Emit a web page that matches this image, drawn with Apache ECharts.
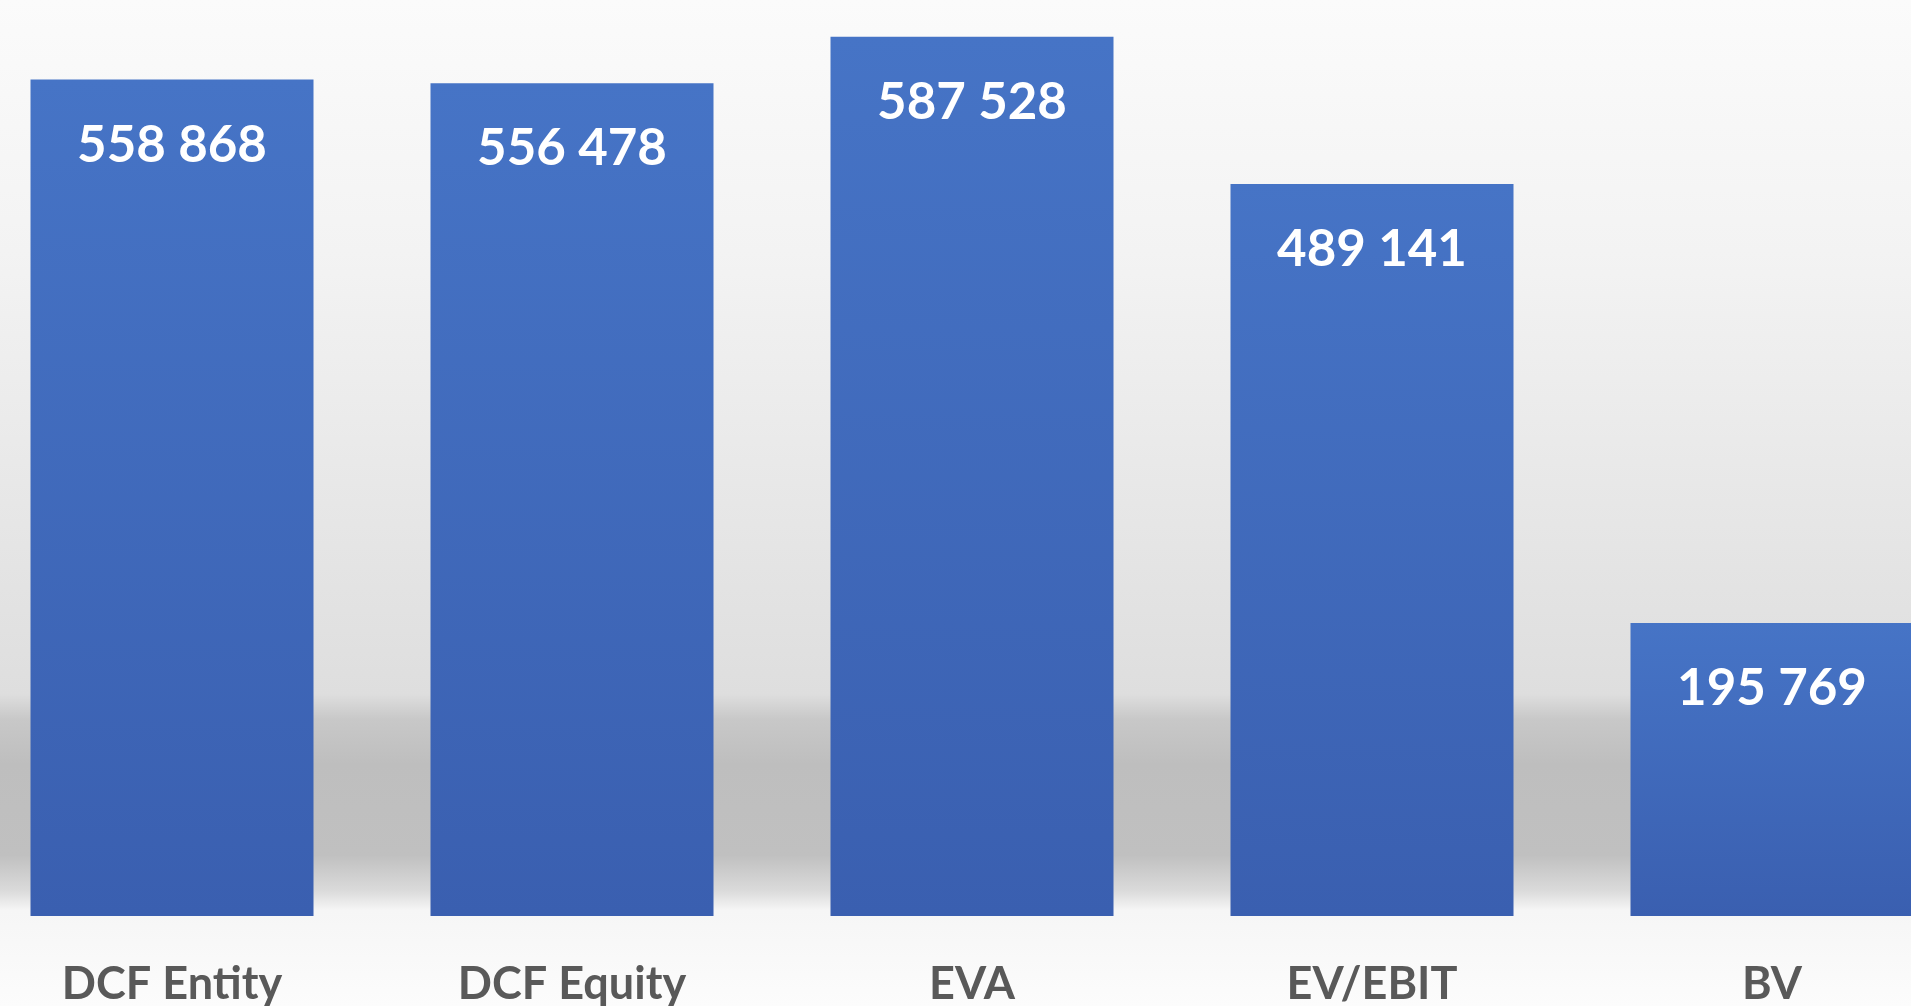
<!DOCTYPE html>
<html>

<head>
    <meta charset="utf-8">
    <title>ECharts</title>
    <script src="https://cdn.jsdelivr.net/npm/echarts@6/dist/echarts.min.js"></script>
    <style>
        html, body { margin: 0; padding: 0; }
    </style>
</head>

<body>
    <div id="main" style="width: 1911px;height:1006px;"></div>
    <script type="text/javascript">
        // valuation methods and results
        var categories = ['DCF Entity', 'DCF Equity', 'EVA', 'EV/EBIT', 'BV'];
        var values = [558868, 556478, 587528, 489141, 195769];

        // 558868 -> "558 868"
        function fmt(v) {
            return String(v).replace(/\B(?=(\d{3})+(?!\d))/g, ' ');
        }

        var myChart = echarts.init(document.getElementById('main'));
        var option = {
            // grey "floor shadow" backdrop
            backgroundColor: {
                type: 'linear', x: 0, y: 0, x2: 0, y2: 1,
                colorStops: [
                    { offset: 0, color: '#fbfbfb' },
                    { offset: 0.25, color: '#f3f3f3' },
                    { offset: 0.5, color: '#e7e7e7' },
                    { offset: 0.69, color: '#dedede' },
                    { offset: 0.715, color: '#c8c8c8' },
                    { offset: 0.76, color: '#bebebe' },
                    { offset: 0.85, color: '#c0c0c0' },
                    { offset: 0.885, color: '#dadada' },
                    { offset: 0.905, color: '#f6f6f6' },
                    { offset: 1, color: '#fcfcfc' }
                ]
            },
            grid: {
                left: -28,
                width: 2000,
                top: 18,
                bottom: 90,
                outerBoundsMode: 'none'
            },
            xAxis: {
                type: 'category',
                data: categories,
                axisLine: { show: false },
                axisTick: { show: false },
                axisLabel: {
                    margin: 46,
                    color: '#595959',
                    fontSize: 45,
                    fontWeight: 'bold',
                    fontFamily: 'Lato'
                }
            },
            yAxis: {
                type: 'value',
                min: 0,
                max: 600000,
                show: false,
                splitLine: { show: false }
            },
            series: [{
                type: 'bar',
                data: values,
                barWidth: 283,
                itemStyle: {
                    color: {
                        type: 'linear', x: 0, y: 0, x2: 0, y2: 1,
                        colorStops: [
                            { offset: 0, color: '#4674c6' },
                            { offset: 1, color: '#3a5fb0' }
                        ]
                    }
                },
                label: {
                    show: true,
                    position: 'insideTop',
                    distance: 40,
                    color: '#ffffff',
                    fontSize: 51,
                    fontWeight: 'bold',
                    fontFamily: 'Lato',
                    formatter: function (p) {
                        return fmt(p.value);
                    }
                }
            }]
        };

        myChart.setOption(option);
    </script>
</body>

</html>
